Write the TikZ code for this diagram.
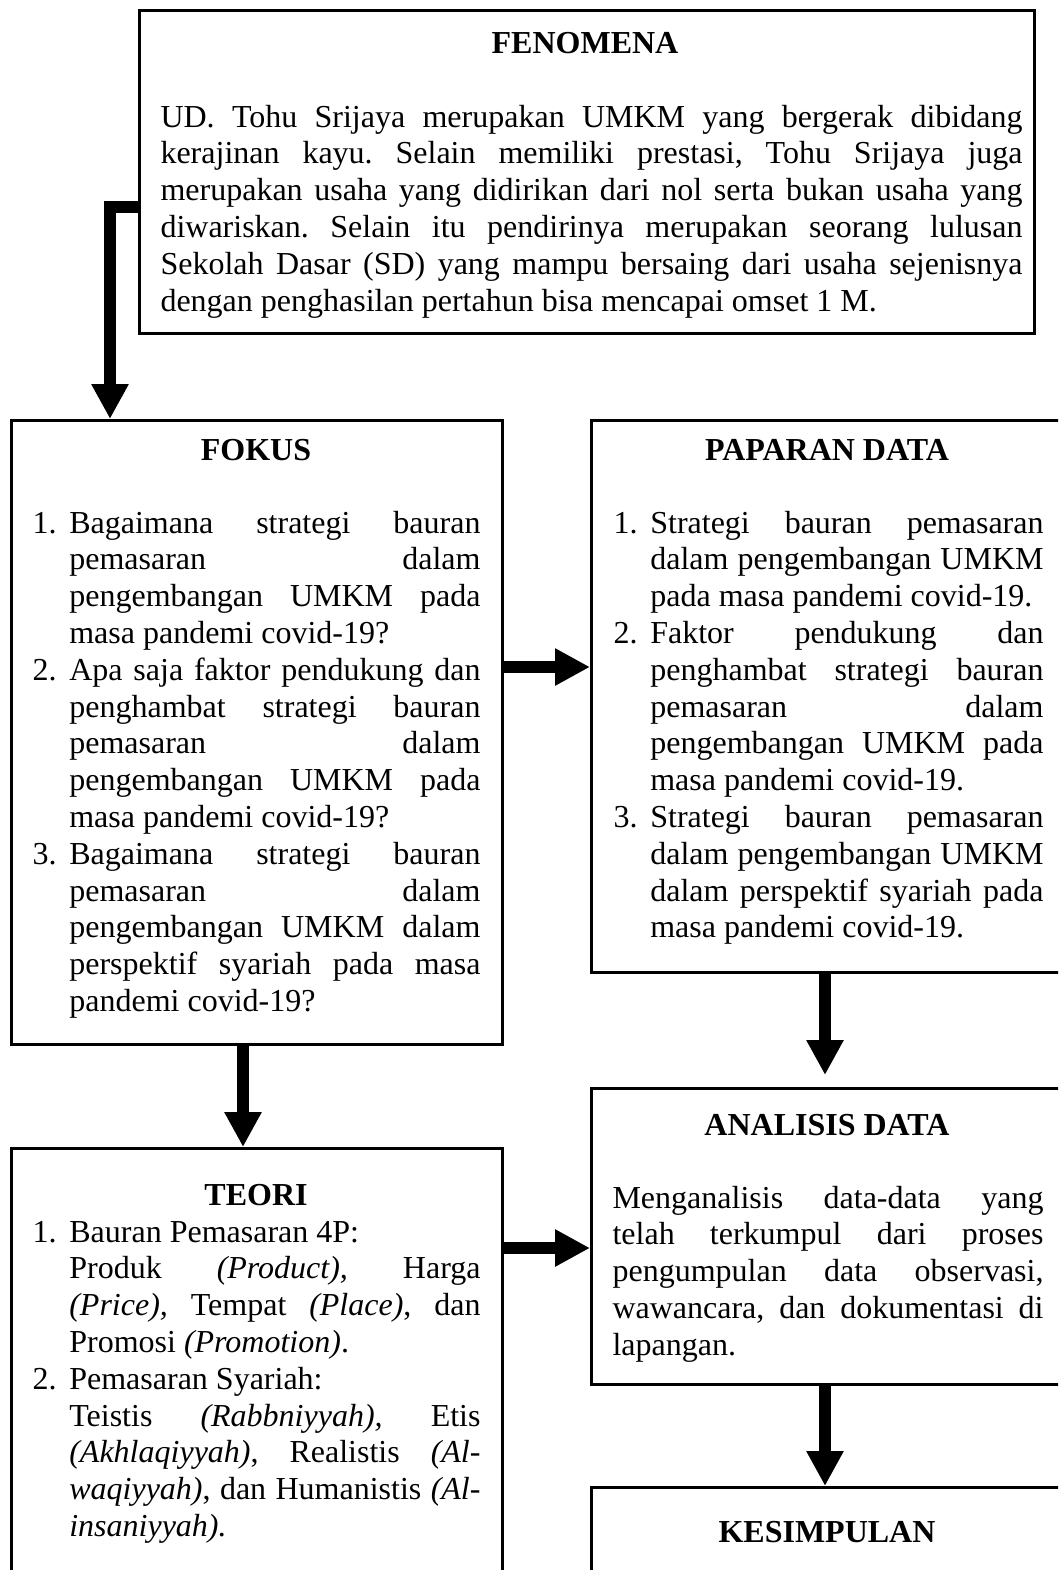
\documentclass[tikz,border=0pt]{standalone}
\usepackage{fontspec}
\setmainfont{Liberation Serif}
\usetikzlibrary{arrows.meta}

\newcommand{\isifont}{\fontsize{12pt}{13.8pt}\selectfont\frenchspacing\tolerance=10000\hyphenpenalty=10000}
\newcommand{\butir}[2]{\hangindent=13.8pt\hangafter=1\noindent\makebox[13.8pt][l]{#1}#2\par}

\tikzset{
  kotak/.style={draw, line width=1pt, anchor=north west, inner sep=0pt},
  judul/.style={anchor=base, inner sep=0pt, font=\isifont\bfseries},
  isi/.style={anchor=base west, inner sep=0pt, align=justify, font=\isifont},
  panah/.style={line width=4.3pt, -{Triangle[length=13.1pt,width=13.1pt]}}
}

\begin{document}
\begin{tikzpicture}[x=0.375pt,y=-0.375pt]
  \useasboundingbox (0,0) rectangle (1058,1570);
  \clip (0,0) rectangle (1058,1570);

  % Kotak
  \node[kotak, minimum width=335.63pt, minimum height=121.13pt] (fenomena) at (138,9) {};
  \node[kotak, minimum width=184.13pt, minimum height=234pt] (fokus) at (10,419) {};
  \node[kotak, minimum width=177.75pt, minimum height=207pt] (paparan) at (590,419) {};
  \node[kotak, minimum width=184.13pt, minimum height=170pt] (teori) at (10,1147) {};
  \node[kotak, minimum width=177.75pt, minimum height=111pt] (analisis) at (590,1087) {};
  \node[kotak, minimum width=177.75pt, minimum height=43pt] (kesimpulan) at (590,1486) {};

  % Judul
  \node[judul] (fenomena-judul) at (585,53.4) {FENOMENA};
  \node[judul] (fokus-judul) at (256,460) {FOKUS};
  \node[judul] (paparan-judul) at (827,460) {PAPARAN DATA};
  \node[judul] (teori-judul) at (256,1205) {TEORI};
  \node[judul] (analisis-judul) at (827,1135) {ANALISIS DATA};
  \node[judul] (kesimpulan-judul) at (827,1542) {KESIMPULAN};

  % Isi
  \node[isi, text width=323.25pt] (fenomena-isi) at (160,127) {UD. Tohu Srijaya merupakan UMKM yang bergerak dibidang\break kerajinan kayu. Selain memiliki prestasi, Tohu Srijaya juga\break merupakan usaha yang didirikan dari nol serta bukan usaha yang\break diwariskan. Selain itu pendirinya merupakan seorang lulusan\break Sekolah Dasar (SD) yang mampu bersaing dari usaha sejenisnya\break dengan penghasilan pertahun bisa mencapai omset 1 M.};
  \node[isi, text width=168pt] (fokus-isi) at (32,533) {%
    \butir{1.}{Bagaimana strategi bauran\break pemasaran dalam\break pengembangan UMKM pada\break masa pandemi covid-19?}
    \butir{2.}{Apa saja faktor pendukung dan\break penghambat strategi bauran\break pemasaran dalam\break pengembangan UMKM pada\break masa pandemi covid-19?}
    \butir{3.}{Bagaimana strategi bauran\break pemasaran dalam\break pengembangan UMKM dalam\break perspektif syariah pada masa\break pandemi covid-19?}};
  \node[isi, text width=161.25pt] (paparan-isi) at (613,533) {%
    \butir{1.}{Strategi bauran pemasaran\break dalam pengembangan UMKM\break pada masa pandemi covid-19.}
    \butir{2.}{Faktor pendukung dan\break penghambat strategi bauran\break pemasaran dalam\break pengembangan UMKM pada\break masa pandemi covid-19.}
    \butir{3.}{Strategi bauran pemasaran\break dalam pengembangan UMKM\break dalam perspektif syariah pada\break masa pandemi covid-19.}};
  \node[isi, text width=168pt] (teori-isi) at (32,1242) {%
    \butir{1.}{Bauran Pemasaran 4P:\newline Produk \textit{(Product),} Harga\break \textit{(Price),} Tempat \textit{(Place)}, dan\break Promosi \textit{(Promotion)}.}
    \butir{2.}{Pemasaran Syariah:\newline Teistis \textit{(Rabbniyyah),} Etis\break \textit{(Akhlaqiyyah)}, Realistis \textit{(Al-}\break \textit{waqiyyah)}, dan Humanistis \textit{(Al-}\break \textit{insaniyyah).}}};
  \node[isi, text width=161.63pt] (analisis-isi) at (612,1208) {Menganalisis data-data yang\break telah terkumpul dari proses\break pengumpulan data observasi,\break wawancara, dan dokumentasi di\break lapangan.};

  % Panah
  \coordinate (siku) at (110,207);
  \coordinate (y-fp) at (0,667);
  \coordinate (x-ft) at (243,0);
  \coordinate (x-kanan) at (825,0);
  \coordinate (y-ta) at (0,1248);
  \draw[panah, line join=miter] (fenomena.west |- siku) -- (siku) -- (siku |- fokus.north);
  \draw[panah] (fokus.east |- y-fp) -- (paparan.west |- y-fp);
  \draw[panah] (fokus.south -| x-ft) -- (teori.north -| x-ft);
  \draw[panah, shorten >=4.5pt] (paparan.south -| x-kanan) -- (analisis.north -| x-kanan);
  \draw[panah] (teori.east |- y-ta) -- (analisis.west |- y-ta);
  \draw[panah] (analisis.south -| x-kanan) -- (kesimpulan.north -| x-kanan);
\end{tikzpicture}
\end{document}
